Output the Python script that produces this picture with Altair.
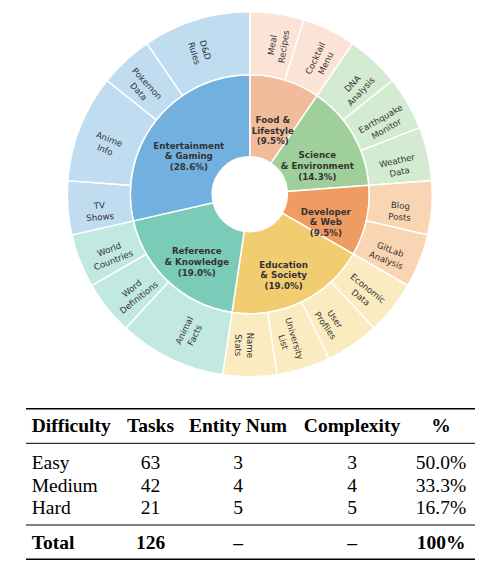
import altair as alt
import pandas as pd

# ---------------- data ----------------
categories = ["Food & Lifestyle", "Science & Environment", "Developer & Web",
              "Education & Society", "Reference & Knowledge", "Entertainment & Gaming"]
cat_labels = ["Food &\nLifestyle", "Science\n& Environment", "Developer\n& Web",
              "Education\n& Society", "Reference\n& Knowledge", "Entertainment\n& Gaming"]
cat_pct = [9.5, 14.3, 9.5, 19.0, 19.0, 28.6]
cat_units = [2, 3, 2, 4, 4, 6]

sub_names = ["Meal\nRecipes", "Cocktail\nMenu",
             "DNA\nAnalysis", "Earthquake\nMonitor", "Weather\nData",
             "Blog\nPosts", "GitLab\nAnalysis",
             "Economic\nData", "User\nProfiles", "University\nList", "Name\nStats",
             "Animal\nFacts", "Word\nDefinitions", "World\nCountries",
             "TV\nShows", "Anime\nInfo", "Pokemon\nData", "D&D\nRules"]
sub_parent = [0, 0, 1, 1, 1, 2, 2, 3, 3, 3, 3, 4, 4, 4, 5, 5, 5, 5]
sub_units = [1, 1, 1, 1, 1, 1, 1, 1, 1, 1, 1, 2, 1, 1, 1, 2, 1, 2]

headers = ["Difficulty", "Tasks", "Entity Num", "Complexity", "%"]
difficulty = ["Easy", "Medium", "Hard"]
tasks = [63, 42, 21]
entity_num = [3, 4, 5]
complexity = [3, 4, 5]
share = [50.0, 33.3, 16.7]
total_row = ["Total", "126", "\u2013", "\u2013", "100%"]

# ---------------- styles / layout ----------------
inner_colors = ["#f2bb9c", "#9fd09b", "#ef9c62", "#f1cd6f", "#7bcbb9", "#72b0df"]
outer_colors = ["#fbe3d6", "#d3ebd0", "#fad5b4", "#faebc0", "#c1e9df", "#c0dcf0"]
CX, CY = 241.8, 185.3
R_HOLE, R_MID, R_OUT = 37.5, 119.5, 182.5
R_IN_LABEL, R_OUT_LABEL = 78, 151
col_x = [23.7, 142.5, 230, 344, 433]
col_align = ["left", "center", "center", "center", "center"]
HEADER_Y, ROW_Y0, ROW_Y1, TOTAL_Y = 423, 460.3, 505.3, 540.3
RULES = [(399.7, 1.6), (434.3, 1.0), (516.0, 1.0), (550.3, 1.6)]
RULE_X0, RULE_X1 = 18, 467
SERIF = "Liberation Serif"
TSIZE = 19.5

TOTAL = sum(cat_units)

inner_df = pd.DataFrame({
    "cat": categories,
    "label": [f"{l}\n({p:.1f}%)" for l, p in zip(cat_labels, cat_pct)],
    "w": cat_units,
    "i": list(range(len(categories))),
})
outer_df = pd.DataFrame({
    "name": sub_names,
    "parent": [categories[p] for p in sub_parent],
    "w": sub_units,
    "i": list(range(len(sub_names))),
})
table_df = pd.DataFrame({
    "c0": difficulty,
    "c1": [str(v) for v in tasks],
    "c2": [str(v) for v in entity_num],
    "c3": [str(v) for v in complexity],
    "c4": [f"{v:.1f}%" for v in share],
})

theta_scale = alt.Scale(domain=[0, TOTAL])
theta = alt.Theta("w:Q", stack=True, scale=theta_scale)
order = alt.Order("i:Q", sort="ascending")
center = dict(x=alt.value(CX), y=alt.value(CY))

inner_arc = alt.Chart(inner_df).mark_arc(
    outerRadius=R_MID, innerRadius=R_HOLE, stroke="white", strokeWidth=1.5
).encode(
    theta=theta, order=order,
    color=alt.Color("cat:N", scale=alt.Scale(domain=categories, range=inner_colors), legend=None),
    **center,
)

outer_arc = alt.Chart(outer_df).mark_arc(
    outerRadius=R_OUT, innerRadius=R_MID, stroke="white", strokeWidth=1.5
).encode(
    theta=theta, order=order,
    color=alt.Color("parent:N", scale=alt.Scale(domain=categories, range=outer_colors), legend=None),
    **center,
)

inner_text = alt.Chart(inner_df).mark_text(
    radius=R_IN_LABEL, font="DejaVu Sans", fontWeight="bold", fontSize=8.7,
    lineBreak="\n", lineHeight=10.8, color="#333333", align="center", baseline="middle"
).encode(theta=theta, order=order, text="label:N", **center)

outer_text = alt.Chart(outer_df).transform_joinaggregate(
    tot="sum(w)"
).transform_window(
    cum="sum(w)", sort=[alt.SortField("i", order="ascending")], frame=[None, 0]
).transform_calculate(
    mid="(datum.cum - datum.w / 2) / datum.tot * 360"
).transform_calculate(
    rot="((datum.mid <= 180.001 ? datum.mid - 90 : datum.mid - 270) + 360) % 360"
).mark_text(
    radius=R_OUT_LABEL, font="DejaVu Sans", fontSize=8.6,
    lineBreak="\n", lineHeight=11.5, color="#333333", align="center", baseline="middle"
).encode(
    theta=theta, order=order, text="name:N",
    angle=alt.Angle("rot:Q", scale=None),
    **center,
)

layers = [inner_arc, outer_arc, inner_text, outer_text]

# table rules
for yy, sw in RULES:
    layers.append(
        alt.Chart(alt.Data(values=[{}])).mark_rule(color="black", strokeWidth=sw).encode(
            x=alt.value(RULE_X0), x2=alt.value(RULE_X1), y=alt.value(yy)
        )
    )

# header and total rows
for j in range(len(headers)):
    layers.append(
        alt.Chart(pd.DataFrame({"t": [headers[j]]})).mark_text(
            font=SERIF, fontSize=TSIZE, fontWeight="bold", align=col_align[j],
            baseline="alphabetic", color="black"
        ).encode(text="t:N", x=alt.value(col_x[j]), y=alt.value(HEADER_Y))
    )
    layers.append(
        alt.Chart(pd.DataFrame({"t": [total_row[j]]})).mark_text(
            font=SERIF, fontSize=TSIZE, fontWeight="bold", align=col_align[j],
            baseline="alphabetic", color="black"
        ).encode(text="t:N", x=alt.value(col_x[j]), y=alt.value(TOTAL_Y))
    )

# body rows
row_scale = alt.Scale(domain=difficulty, range=[ROW_Y0, ROW_Y1], padding=0)
for j in range(len(headers)):
    layers.append(
        alt.Chart(table_df).mark_text(
            font=SERIF, fontSize=TSIZE, align=col_align[j],
            baseline="alphabetic", color="black"
        ).encode(
            text=f"c{j}:N", x=alt.value(col_x[j]),
            y=alt.Y("c0:N", scale=row_scale, axis=None),
        )
    )

chart = alt.layer(*layers).resolve_scale(color="independent").properties(
    width=473, height=553, padding=0
).configure_view(stroke=None)

chart.save("out.html", embed_options={"renderer": "svg", "actions": False})
